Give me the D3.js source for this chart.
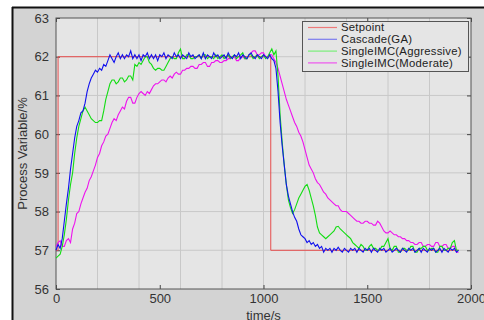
<!DOCTYPE html>
<html><head><meta charset="utf-8">
<script src="https://cdn.jsdelivr.net/npm/d3@7"></script>
<style>html,body{margin:0;padding:0;background:#fff;}svg{display:block;}</style>
</head><body>
<svg id="chart" width="484" height="320"></svg>
<script>
// sample period 10 s, t = 0 .. 1940 s
const sampleStart = 0, sampleStep = 10;
const cascadeGA = [
57.0,57.15,57.05,57.3,57.75,58.2,58.6,59.1,59.5,59.9,
60.2,60.35,60.55,60.6,60.8,61.1,61.3,61.45,61.55,61.65,
61.6,61.7,61.65,61.8,61.75,61.9,62.05,61.95,61.85,62.0,
62.1,61.95,62.05,61.95,62.05,62.0,62.15,61.95,62.05,61.95,
62.05,61.9,62.05,62.0,62.1,61.95,62.05,61.95,62.05,61.9,
62.05,62.0,62.1,61.95,62.05,62.0,61.95,62.1,62.0,62.05,
61.95,62.05,62.0,61.95,62.1,62.0,62.05,61.95,62.0,62.05,
61.95,62.1,61.95,62.05,62.0,61.95,62.1,62.0,62.05,61.95,
62.0,62.05,61.95,62.1,62.0,61.95,62.05,62.0,62.1,61.95,
62.05,62.0,61.95,62.05,62.1,62.0,61.95,62.05,62.0,61.95,
62.05,62.0,61.95,62.05,61.95,61.9,61.7,61.1,60.3,59.7,
59.2,58.7,58.4,58.2,58.0,57.85,57.75,57.55,57.4,57.35,
57.3,57.2,57.25,57.15,57.2,57.1,57.15,57.05,57.1,56.95,
57.05,57.0,57.05,56.95,57.05,57.0,57.08,57.0,56.95,57.05,
57.0,56.95,57.05,57.0,57.05,56.95,57.05,57.0,56.95,57.05,
57.0,57.05,56.95,57.05,57.0,56.95,57.05,57.0,57.05,56.95,
57.0,57.05,56.95,57.0,57.05,57.0,56.95,57.05,57.0,56.95,
57.05,57.0,57.05,56.95,57.0,57.05,56.95,57.05,57.0,56.95,
57.05,57.0,57.05,56.95,57.0,57.05,56.95,57.05,57.0,56.95,
57.05,57.0,57.05,56.95,57.0];
const singleAggressive = [
56.8,56.85,56.9,57.1,57.4,57.8,58.3,58.7,59.0,59.5,
59.9,60.2,60.4,60.6,60.7,60.6,60.5,60.4,60.35,60.3,
60.3,60.35,60.35,60.6,60.9,61.1,61.3,61.4,61.4,61.3,
61.35,61.45,61.45,61.35,61.4,61.5,61.5,61.4,61.8,61.75,
61.85,61.8,61.9,62.0,62.0,61.85,61.8,61.7,61.65,61.7,
61.7,61.65,61.65,61.75,61.85,61.95,62.0,61.95,61.95,62.1,
62.2,61.95,61.95,62.05,62.05,61.95,61.95,62.0,62.0,62.05,
61.95,62.05,62.05,61.95,62.0,62.0,61.95,62.05,61.95,62.0,
62.05,61.95,62.0,62.05,61.95,62.0,62.05,61.95,62.0,62.05,
62.1,61.95,61.95,62.05,62.05,61.95,62.0,62.05,61.95,62.0,
62.05,61.95,62.0,62.1,62.2,62.05,62.15,61.5,60.5,59.8,
59.2,58.7,58.3,58.1,57.95,58.05,58.2,58.35,58.45,58.55,
58.65,58.7,58.55,58.35,58.15,57.9,57.6,57.45,57.4,57.35,
57.3,57.35,57.4,57.45,57.5,57.6,57.62,57.55,57.5,57.45,
57.4,57.35,57.3,57.2,57.15,57.1,57.05,57.15,57.1,57.0,
57.0,57.1,57.15,57.05,57.05,57.0,57.0,57.1,57.1,57.2,
57.3,57.05,57.0,57.1,57.1,56.95,56.95,57.05,57.05,57.0,
57.0,57.1,57.1,56.95,56.95,57.05,57.05,57.1,57.1,57.0,
57.0,57.05,57.05,56.95,56.95,57.1,57.1,57.0,57.0,57.05,
57.05,57.2,57.25,57.0,57.0];
const singleModerate = [
57.1,57.2,57.25,57.1,57.1,57.25,57.3,57.2,57.55,57.7,
57.95,58.0,58.2,58.35,58.5,58.6,58.8,58.9,59.05,59.2,
59.4,59.5,59.7,59.8,59.95,60.0,60.15,60.3,60.4,60.35,
60.5,60.6,60.7,60.65,60.85,60.95,60.95,60.8,60.8,60.95,
61.05,61.1,61.05,61.0,61.1,61.05,61.15,61.25,61.3,61.3,
61.35,61.4,61.4,61.35,61.45,61.5,61.45,61.55,61.6,61.55,
61.55,61.65,61.65,61.7,61.7,61.75,61.75,61.7,61.7,61.8,
61.8,61.85,61.85,61.75,61.75,61.85,61.85,61.9,61.9,61.85,
61.85,61.9,61.9,61.95,61.95,62.0,62.0,61.9,61.9,62.0,
62.0,61.95,61.95,62.05,62.1,62.15,62.15,62.05,62.05,62.1,
62.1,62.0,62.0,62.05,62.05,61.95,61.85,61.7,61.5,61.3,
61.1,60.9,60.75,60.6,60.45,60.3,60.2,60.05,59.95,59.8,
59.6,59.4,59.2,59.1,59.0,58.85,58.75,58.7,58.6,58.5,
58.45,58.35,58.3,58.25,58.2,58.15,58.15,58.05,58.0,58.0,
58.0,57.95,57.9,57.85,57.8,57.75,57.75,57.7,57.7,57.75,
57.75,57.7,57.7,57.65,57.65,57.75,57.7,57.6,57.5,57.45,
57.45,57.5,57.45,57.4,57.4,57.35,57.35,57.3,57.3,57.25,
57.25,57.2,57.2,57.15,57.15,57.2,57.2,57.1,57.1,57.15,
57.15,57.1,57.1,57.2,57.2,57.1,57.1,57.15,57.15,57.05,
57.05,57.1,57.1,56.95,56.95];
const setpointTimes = [0,10,10,1035,1035,1940];
const setpointValues = [57,57,62,62,57,57];
const seriesNames = ["Setpoint","Cascade(GA)","SingleIMC(Aggressive)","SingleIMC(Moderate)"];
const xTicks = [0,500,1000,1500,2000];
const xGrid = [200,400,600,800,1000,1200,1400,1600,1800];
const yTicks = [56,57,58,59,60,61,62,63];

const svg = d3.select("#chart");
const W = 484, H = 320;
const m = {left:56, top:18, right:471, bottom:289};
const x = d3.scaleLinear().domain([0,2000]).range([m.left, m.right]);
const y = d3.scaleLinear().domain([56,63]).range([m.bottom, m.top]);

svg.append("rect").attr("x",12).attr("y",7).attr("width",W-12).attr("height",H-7).attr("fill","#d3d3d3");
svg.append("line").attr("x1",12).attr("x2",W).attr("y1",7.5).attr("y2",7.5).attr("stroke","#111").attr("stroke-width",2);
svg.append("line").attr("x1",12.5).attr("x2",12.5).attr("y1",7).attr("y2",H).attr("stroke","#111").attr("stroke-width",2);
svg.append("rect").attr("x",m.left).attr("y",m.top).attr("width",m.right-m.left).attr("height",m.bottom-m.top).attr("fill","#e5e5e5");

const grid = svg.append("g").attr("stroke","#c8c8c8").attr("stroke-width",1);
xGrid.forEach(v=>grid.append("line").attr("x1",x(v)).attr("x2",x(v)).attr("y1",m.top).attr("y2",m.bottom));
yTicks.slice(1,-1).forEach(v=>grid.append("line").attr("x1",m.left).attr("x2",m.right).attr("y1",y(v)).attr("y2",y(v)));

const font = "'Liberation Sans', Arial, sans-serif";
const xAxis = svg.append("g").attr("transform",`translate(0,${m.bottom})`)
  .call(d3.axisBottom(x).tickValues(xTicks).tickSize(-4).tickPadding(5).tickFormat(d3.format("d")));
const yAxis = svg.append("g").attr("transform",`translate(${m.left},0)`)
  .call(d3.axisLeft(y).tickValues(yTicks).tickSize(-4).tickPadding(7).tickFormat(d3.format("d")));
const yAxisR = svg.append("g").attr("transform",`translate(${m.right},0)`)
  .call(d3.axisRight(y).tickValues(yTicks).tickSize(-4).tickFormat(""));
const xAxisT = svg.append("g").attr("transform",`translate(0,${m.top})`)
  .call(d3.axisTop(x).tickValues(xTicks).tickSize(-4).tickFormat(""));
[xAxis,yAxis,yAxisR,xAxisT].forEach(g=>{
  g.select(".domain").remove();
  g.selectAll(".tick line").attr("stroke","#444");
  g.selectAll("text").attr("fill","#333").style("font-family",font).style("font-size","13px");
});
svg.append("rect").attr("x",m.left).attr("y",m.top).attr("width",m.right-m.left).attr("height",m.bottom-m.top)
  .attr("fill","none").attr("stroke","#555").attr("stroke-width",1);

const line = d3.line().x(d=>x(d[0])).y(d=>y(d[1]));
const colors = ["#e64c4c","#1010ee","#12dd12","#ee12ee"];
const spData = setpointTimes.map((t,i)=>[t,setpointValues[i]]);
svg.append("path").datum(spData).attr("d",line).attr("fill","none").attr("stroke",colors[0]).attr("stroke-width",1);
[[singleModerate,colors[3]],[singleAggressive,colors[2]],[cascadeGA,colors[1]]].forEach(([arr,c])=>{
  svg.append("path").datum(arr.map((v,i)=>[sampleStart+i*sampleStep,v])).attr("d",line)
    .attr("fill","none").attr("stroke",c).attr("stroke-width",1.1);
});

const lg = svg.append("g");
lg.append("rect").attr("x",302.5).attr("y",21.5).attr("width",166).attr("height",50).attr("fill","#e5e5e5").attr("stroke","#555");
const legColors = ["#ee7a7a","#7a7aee","#7aee7a","#ee55ee"];
seriesNames.forEach((n,i)=>{
  const yy = 27.5 + i*11.8;
  lg.append("line").attr("x1",308).attr("x2",337).attr("y1",yy).attr("y2",yy).attr("stroke",legColors[i]).attr("stroke-width",1.2);
  lg.append("text").attr("x",341).attr("y",yy).attr("dy","0.35em").text(n)
    .attr("fill","#222").style("font-family",font).style("font-size","11.3px").style("letter-spacing","0.25px");
});

svg.append("text").attr("x",x(1000)).attr("y",320).attr("text-anchor","middle").text("time/s")
  .attr("fill","#333").style("font-family",font).style("font-size","13px");
svg.append("text").attr("transform",`translate(27,${(m.top+m.bottom)/2}) rotate(-90)`).attr("text-anchor","middle").text("Process Variable/%")
  .attr("fill","#333").style("font-family",font).style("font-size","13px");
</script>
</body></html>
